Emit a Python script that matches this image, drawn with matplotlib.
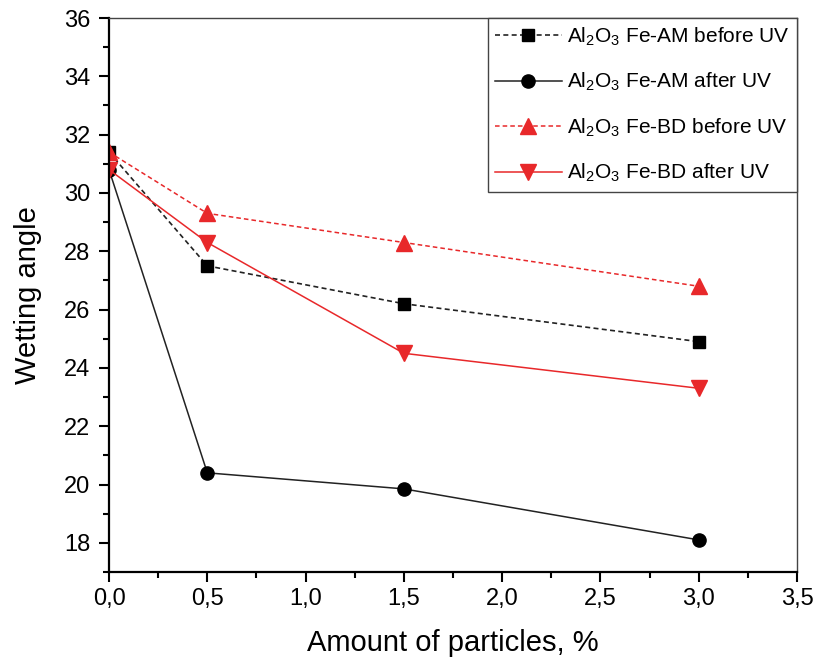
import matplotlib
matplotlib.use("Agg")
import matplotlib.pyplot as plt
from matplotlib.ticker import MultipleLocator, FuncFormatter

plt.rcParams['font.family'] = ['Liberation Sans', 'DejaVu Sans']
plt.rcParams['mathtext.fontset'] = 'custom'
plt.rcParams['mathtext.rm'] = 'Liberation Sans'

x = [0.0, 0.5, 1.5, 3.0]
am_before = [31.4, 27.5, 26.2, 24.9]
am_after = [30.8, 20.4, 19.85, 18.1]
bd_before = [31.4, 29.3, 28.3, 26.8]
bd_after = [30.8, 28.3, 24.5, 23.3]

labels = [r'Al$_2$O$_3$ Fe-AM before UV', r'Al$_2$O$_3$ Fe-AM after UV',
          r'Al$_2$O$_3$ Fe-BD before UV', r'Al$_2$O$_3$ Fe-BD after UV']

fig = plt.figure(figsize=(8.16, 6.62), dpi=100)
ax = fig.add_axes([0.1336, 0.136, 0.8431, 0.8368])

red = '#e8282a'
ax.plot(x, am_before, ls=(0, (3, 2)), color='#222222', lw=1.2, marker='s', ms=9,
        mfc='black', mec='black', label=labels[0])
ax.plot(x, am_after, ls='-', color='#222222', lw=1.1, marker='o', ms=9.5,
        mfc='black', mec='black', label=labels[1])
ax.plot(x, bd_before, ls=(0, (3, 2)), color=red, lw=1.1, marker='^', ms=11,
        mfc=red, mec=red, label=labels[2])
ax.plot(x, bd_after, ls='-', color=red, lw=1.1, marker='v', ms=11,
        mfc=red, mec=red, label=labels[3])

ax.set_xlim(0, 3.5)
ax.set_ylim(17, 36)
ax.xaxis.set_major_locator(MultipleLocator(0.5))
ax.xaxis.set_minor_locator(MultipleLocator(0.25))
ax.yaxis.set_major_locator(MultipleLocator(2))
ax.yaxis.set_minor_locator(MultipleLocator(1))
ax.xaxis.set_major_formatter(FuncFormatter(lambda v, p: f'{v:.1f}'.replace('.', ',')))
ax.yaxis.set_major_formatter(FuncFormatter(lambda v, p: f'{v:.0f}'))
ax.tick_params(axis='both', which='major', direction='out', length=7.5, width=1.5, labelsize=17)
ax.tick_params(axis='both', which='minor', direction='out', length=4, width=1.5)
ax.tick_params(axis='x', which='major', pad=4)
ax.tick_params(axis='y', which='major', pad=6)
ax.tick_params(top=False, right=False)
for s in ['left', 'bottom']:
    ax.spines[s].set_linewidth(1.6)
for s in ['top', 'right']:
    ax.spines[s].set_linewidth(1.0)
    ax.spines[s].set_color('#444444')

ax.set_xlabel('Amount of particles, %', fontsize=21, labelpad=14)
ax.set_ylabel('Wetting angle', fontsize=21, labelpad=16)

leg = ax.legend(loc='upper right', fontsize=15, frameon=True, fancybox=False,
                edgecolor='#444444', handlelength=3.2, borderaxespad=0.0,
                labelspacing=1.1, borderpad=0.35, handletextpad=0.25,
                framealpha=1.0)
leg.get_frame().set_linewidth(1.0)

fig.savefig('out.png', dpi=100)
